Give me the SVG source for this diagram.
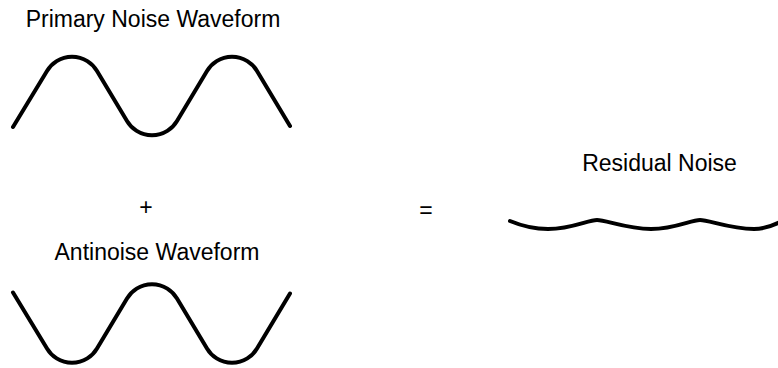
<svg xmlns="http://www.w3.org/2000/svg" width="778" height="368" viewBox="0 0 778 368">
<style>
.lbl{font-family:"Liberation Sans",Arial,sans-serif;font-size:23px;fill:#000;text-anchor:middle}
.wave{fill:none;stroke:#000;stroke-width:4;stroke-linecap:round;stroke-linejoin:round}
</style>
<rect width="778" height="368" fill="#fff"/>
<g id="primary">
<text class="lbl" x="153" y="27">Primary Noise Waveform</text>
<path class="wave" d="M13,127 L47,71 A29,29 0 0 1 97,71 L127,121 A29,29 0 0 0 177,121 L207,71 A29,29 0 0 1 257,71 L290,126"/>
</g>
<g id="plus">
<text class="lbl" x="146" y="215">+</text>
</g>
<g id="antinoise">
<text class="lbl" x="157" y="260">Antinoise Waveform</text>
<path class="wave" d="M13,292.5 L47,348.5 A29,29 0 0 0 97,348.5 L127,298.5 A29,29 0 0 1 177,298.5 L207,348.5 A29,29 0 0 0 257,348.5 L290,293.5"/>
</g>
<g id="equals">
<text class="lbl" x="426" y="218">=</text>
</g>
<g id="residual">
<text class="lbl" x="659.5" y="171">Residual Noise</text>
<path class="wave" d="M510,221 C522,226 534,229 548,229 C572,229 588,220 597,220 C606,220 627,229 651,229 C675,229 691,220 700,220 C709,220 730,229 754,229 C765,229 772,226 780,222"/>
</g>
<g id="connectors"></g>
</svg>
